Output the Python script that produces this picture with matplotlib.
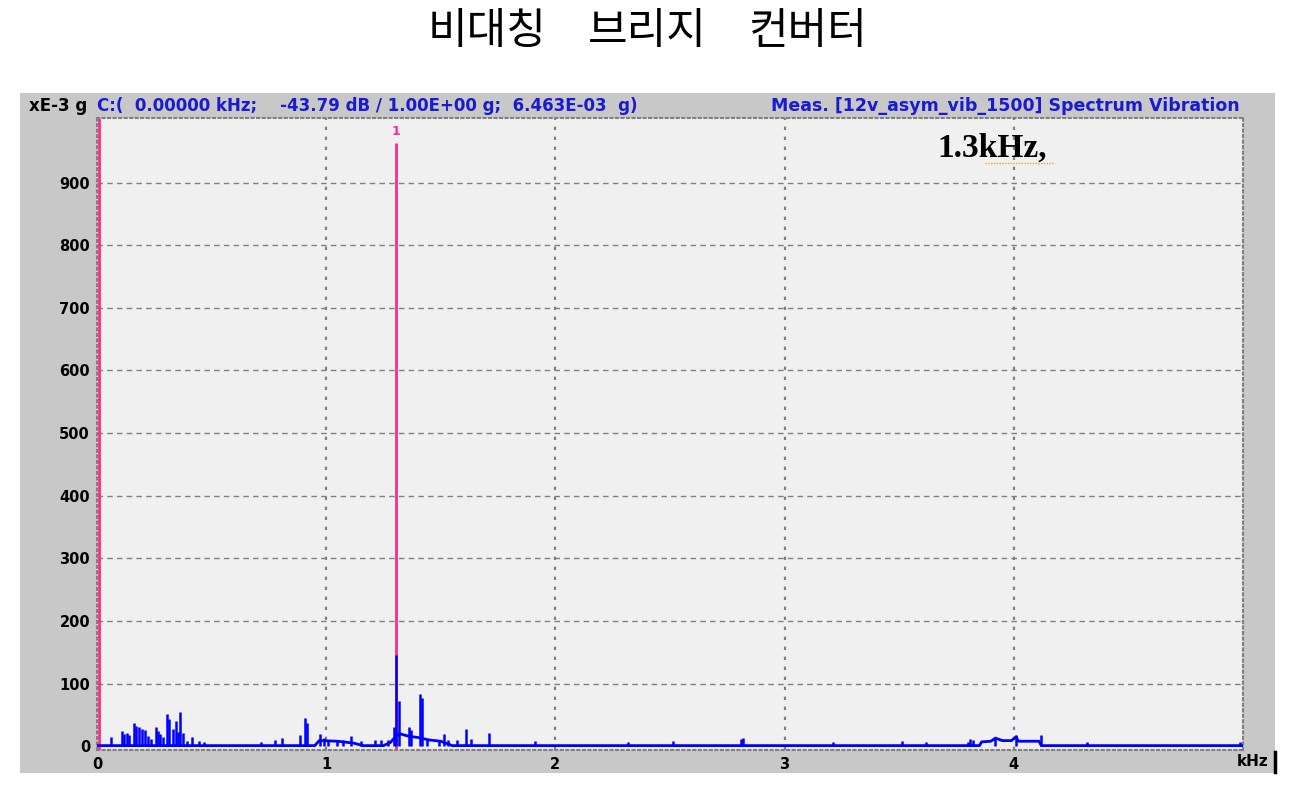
import matplotlib.pyplot as plt
from matplotlib.patches import Rectangle
from matplotlib.lines import Line2D

# chart text
title_words = ['비대칭', '브리지', '컨버터']
head_left = 'xE-3 g'
head_cursor = 'C:(  0.00000 kHz;    -43.79 dB / 1.00E+00 g;  6.463E-03  g)'
head_right = 'Meas. [12v_asym_vib_1500] Spectrum Vibration'
note = '1.3kHz,'

x_ticks = [0, 1, 2, 3, 4]
y_ticks = [0, 100, 200, 300, 400, 500, 600, 700, 800, 900]

# spectral lines (kHz, xE-3 g)
peak_khz = [0.062, 0.107, 0.117, 0.130, 0.140, 0.161, 0.171, 0.185, 0.197, 0.209,
            0.224, 0.237, 0.258, 0.267, 0.277, 0.286, 0.306, 0.316, 0.332, 0.343,
            0.352, 0.364, 0.374, 0.393, 0.415, 0.444, 0.466, 0.717, 0.778, 0.807,
            0.885, 0.906, 0.916, 0.972, 0.989, 1.010, 1.046, 1.075, 1.110, 1.150,
            1.215, 1.237, 1.270, 1.294, 1.306, 1.318, 1.360, 1.370, 1.411, 1.418,
            1.440, 1.490, 1.512, 1.530, 1.570, 1.611, 1.630, 1.709, 1.912, 2.315,
            2.511, 2.810, 2.820, 3.210, 3.514, 3.616, 3.798, 3.810, 3.820, 3.918,
            4.010, 4.119, 4.318, 4.987]
peak_amp = [15, 24, 20, 21, 18, 37, 32, 31, 27, 26,
            16, 11, 30, 24, 20, 14, 51, 44, 28, 40,
            23, 54, 21, 8, 15, 8, 7, 7, 10, 13,
            18, 45, 37, 20, 13, 10, 10, 10, 17, 8,
            10, 10, 10, 30, 145, 72, 31, 26, 83, 77,
            12, 10, 19, 10, 10, 28, 12, 21, 9, 7,
            9, 12, 13, 7, 9, 7, 7, 12, 10, 15,
            18, 18, 7, 7]

# noise floor
floor_khz = [0.0, 0.95, 0.97, 1.05, 1.12, 1.16, 1.25, 1.28, 1.30, 1.32, 1.36,
             1.40, 1.45, 1.50, 1.55, 3.85, 3.86, 3.90, 3.92, 3.95, 3.99, 4.01,
             4.02, 4.11, 4.12, 5.0]
floor_amp = [1, 1, 9, 8, 5, 1, 1, 6, 14, 20, 16,
             14, 10, 8, 1, 1, 7, 8, 13, 9, 9, 15,
             8, 8, 1, 1]

# cursor markers
marker_khz = [0.008, 1.306]
marker_top = [1003, 963]
marker_label = ['', '1']

fig = plt.figure(figsize=(13.06, 7.87), dpi=100)
fig.patch.set_facecolor('white')

W, H = 1306, 787
def fx(px):
    return px / W
def fy(py):
    return 1 - py / H

fig.patches.append(Rectangle((fx(20), fy(773)), fx(1275) - fx(20), fy(93) - fy(773),
                             transform=fig.transFigure, facecolor='#c8c8c8',
                             edgecolor='none', zorder=-5))
fig.lines.append(Line2D([fx(1275), fx(1275)], [fy(752), fy(772)],
                        transform=fig.transFigure, color='black', lw=2.5))

ax = fig.add_axes([fx(97), fy(750), fx(1243) - fx(97), fy(118) - fy(750)])
ax.set_zorder(3)
ax.set_facecolor('#f0f0f0')
ax.set_xlim(0, 5)
ax.set_ylim(-6, 1003)

for s in ax.spines.values():
    s.set_linestyle(':')
    s.set_color('#808080')
    s.set_linewidth(1.5)

for x in x_ticks[1:]:
    ax.axvline(x, color='#808080', ls=(0, (1.5, 3)), lw=1.6, zorder=1)
for y in y_ticks[1:]:
    ax.axhline(y, color='#808080', ls=(0, (4, 3)), lw=1.0, zorder=1)

for k, top, lab in zip(marker_khz, marker_top, marker_label):
    ax.vlines(k, -6, top, color='#ff2a8c', lw=2, zorder=2)
    if lab:
        ax.text(k, top + 8, lab, color='#ff2a8c', fontsize=9, fontweight='bold',
                ha='center', va='bottom')

ax.plot(floor_khz, floor_amp, color='#0000ff', lw=2, zorder=3)
ax.vlines(peak_khz, 0, peak_amp, color='#0000ff', lw=1.8, zorder=3)

ax.set_xticks(x_ticks)
ax.set_yticks(y_ticks)
ax.tick_params(length=0, labelsize=10.5, pad=5)
for t in ax.get_xticklabels() + ax.get_yticklabels():
    t.set_fontweight('bold')

fig.text(fx(937), fy(148), note, fontsize=24, family='Liberation Serif',
         fontweight='bold', ha='left', va='center', zorder=6)
fig.lines.append(Line2D([fx(985), fx(1054)], [fy(163), fy(163)], transform=fig.transFigure,
                        color='#f0a030', lw=1, ls=(0, (1, 1)), zorder=6))

fig.text(fx(1268), fy(761), 'kHz', fontsize=11, fontweight='bold', ha='right', va='center')
fig.text(fx(29), fy(106), head_left, fontsize=12, fontweight='bold', ha='left', va='center')
fig.text(fx(97), fy(106), head_cursor, fontsize=12, fontweight='bold', color='#1a1ad0',
         ha='left', va='center')
fig.text(fx(1240), fy(106), head_right, fontsize=12.5, fontweight='bold', color='#1a1ad0',
         ha='right', va='center')

for word, cx in zip(title_words, [487, 647, 807]):
    fig.text(fx(cx), fy(32), word, fontsize=31, family=['Noto Sans CJK KR', 'DejaVu Sans'],
             ha='center', va='center')

fig.savefig('out.png', dpi=100)
